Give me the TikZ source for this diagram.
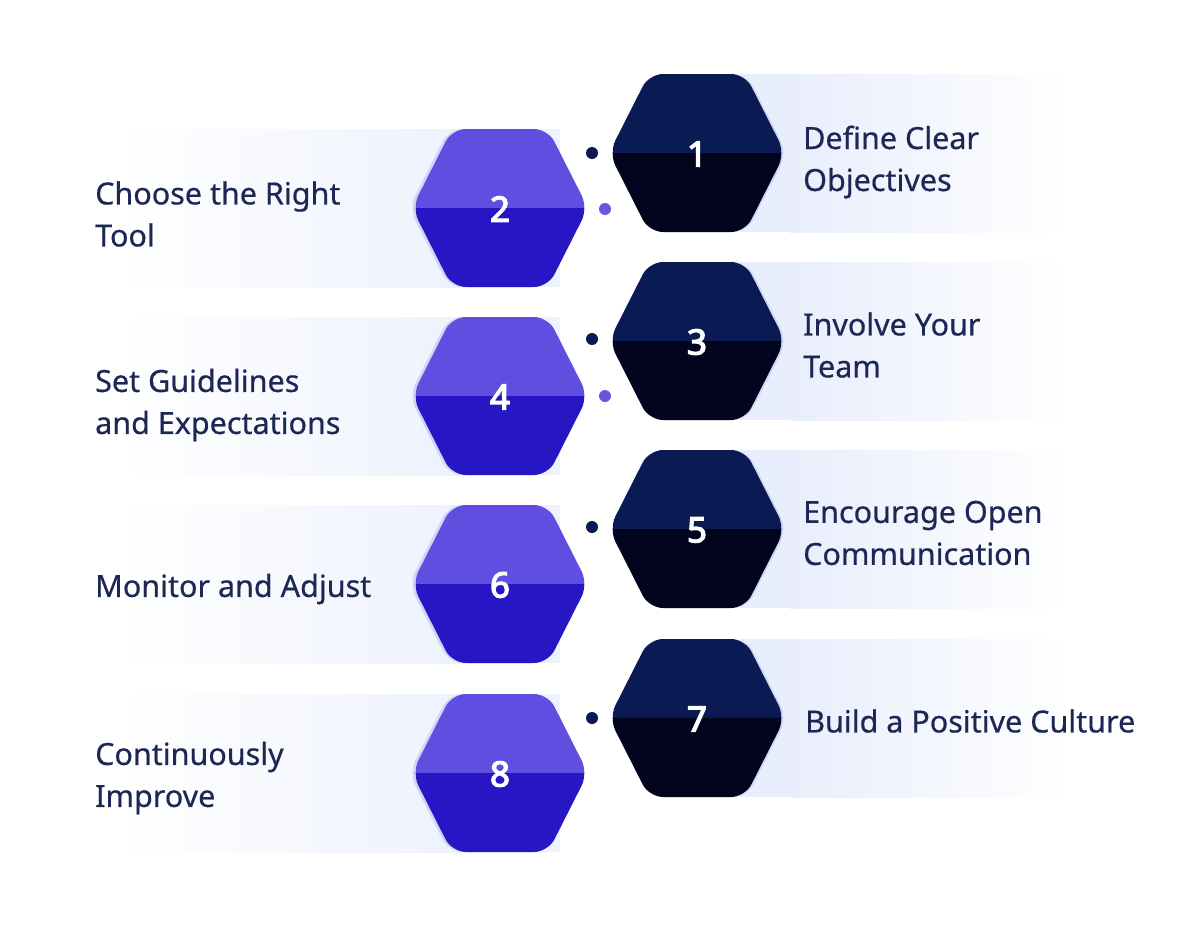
\documentclass[tikz,border=0pt]{standalone}
\usepackage{fontspec}
\setmainfont{Noto Sans}[FakeBold=0.5]
\newfontfamily\numfont{Noto Sans}[FakeBold=3.5]
\definecolor{navyT}{HTML}{0A1A52}
\definecolor{navyB}{HTML}{02031C}
\definecolor{purT}{HTML}{604EE0}
\definecolor{purB}{HTML}{2716C4}
\definecolor{txt}{HTML}{1C2755}
\definecolor{bandO}{HTML}{E9EEFC}
\definecolor{bandE}{HTML}{EEF2FD}
\definecolor{glow}{HTML}{CDD6F8}
\definecolor{dotN}{HTML}{0B1A4E}
\definecolor{dotP}{HTML}{6A55E2}
\newcommand\hexshape[2]{(#1-88,#2) -- (#1-48,#2-79) -- (#1+48,#2-79) -- (#1+88,#2) -- (#1+48,#2+79) -- (#1-48,#2+79) -- cycle}
% #1 cx, #2 cy, #3 top colour, #4 bottom colour, #5 glow shift, #6 number, #7 name
\newcommand\hexagonat[7]{%
  \fill[glow,rounded corners=14pt] \hexshape{#1+#5}{#2};
  \begin{scope}
    \clip[rounded corners=14pt] \hexshape{#1}{#2};
    \fill[#3] (#1-90,#2-82) rectangle (#1+90,#2);
    \fill[#4] (#1-90,#2) rectangle (#1+90,#2+82);
  \end{scope}
  \node[numtxt] (#7) at (#1,#2+1) {#6};
}
\tikzset{
  numtxt/.style={text=white,font=\numfont\fontsize{35}{35}\selectfont,inner sep=0pt},
  steptxt/.style={text=txt,font=\fontsize{30.5}{42}\selectfont,align=left,anchor=west,inner sep=0pt},
  dotn/.style={circle,fill=dotN,inner sep=0pt,minimum size=12pt},
  dotp/.style={circle,fill=dotP,inner sep=0pt,minimum size=12pt}
}
\newcommand\oddband[1]{%
  \fill[bandO] (740,#1-79) rectangle (790,#1+79);
  \shade[left color=bandO,right color=white] (790,#1-79) rectangle (1070,#1+79);
}
\newcommand\evenband[1]{%
  \shade[left color=white,right color=bandE] (120,#1-79) rectangle (460,#1+79);
  \fill[bandE] (460,#1-79) rectangle (560,#1+79);
}
\begin{document}
\begin{tikzpicture}[x=1pt,y=-1pt]
\useasboundingbox (0,0) rectangle (1200,926);
\fill[white] (0,0) rectangle (1200,926);
% bands
\oddband{153}
\oddband{341}
\oddband{529}
\oddband{718}
\evenband{208}
\evenband{396}
\evenband{584}
\evenband{773}
% dots
\node[dotn] (d1) at (592,153) {};
\node[dotp] (d2) at (605,209) {};
\node[dotn] (d3) at (592,339) {};
\node[dotp] (d4) at (605,396) {};
\node[dotn] (d5) at (592,527) {};
\node[dotn] (d7) at (592,718) {};
% hexagons
\hexagonat{697}{153}{navyT}{navyB}{2}{1}{h1}
\hexagonat{697}{341}{navyT}{navyB}{2}{3}{h3}
\hexagonat{697}{529}{navyT}{navyB}{2}{5}{h5}
\hexagonat{697}{718}{navyT}{navyB}{2}{7}{h7}
\hexagonat{500}{208}{purT}{purB}{-3}{2}{h2}
\hexagonat{500}{396}{purT}{purB}{-3}{4}{h4}
\hexagonat{500}{584}{purT}{purB}{-3}{6}{h6}
\hexagonat{500}{773}{purT}{purB}{-3}{8}{h8}
% texts
\node[steptxt] (t1) at (803,162) {Define Clear\\Objectives};
\node[steptxt] (t3) at (803,345) {Involve Your\\Team};
\node[steptxt] (t5) at (803,533) {Encourage Open\\Communication};
\node[steptxt] (t7) at (805,721) {Build a Positive Culture};
\node[steptxt] (t2) at (95,214) {Choose the Right\\Tool};
\node[steptxt] (t4) at (95,405) {Set Guidelines\\and Expectations};
\node[steptxt] (t6) at (95,589) {Monitor and Adjust};
\node[steptxt] (t8) at (95,778) {Continuously\\Improve};
\end{tikzpicture}
\end{document}
